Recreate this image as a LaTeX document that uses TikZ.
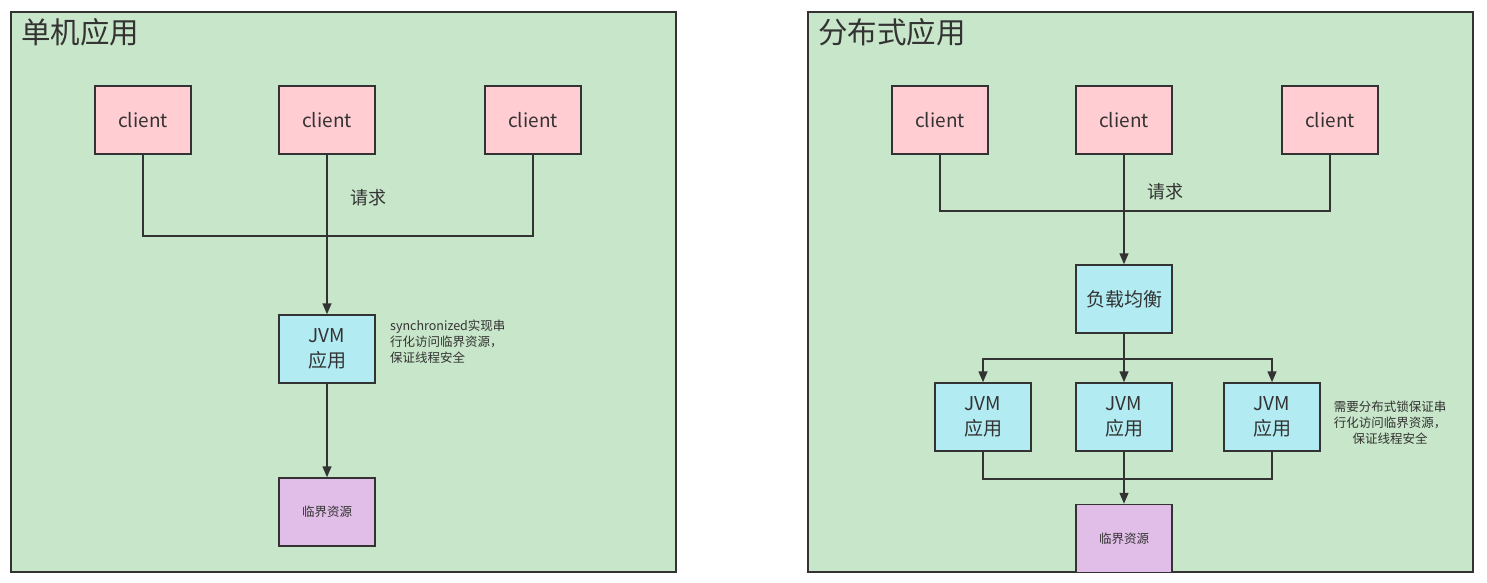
\documentclass[tikz,border=0pt]{standalone}
\usepackage{fontspec}
\setmainfont{Noto Sans CJK SC}
\usepackage{tikz}
\usetikzlibrary{positioning, arrows.meta, calc}
\definecolor{PanelGreen}{HTML}{C8E6C9}
\definecolor{ClientPink}{HTML}{FFCDD2}
\definecolor{JvmCyan}{HTML}{B2EBF2}
\definecolor{ResPurple}{HTML}{E1BEE7}
\definecolor{Stroke}{HTML}{333333}

\begin{document}
\begin{tikzpicture}[
  x=1pt, y=-1pt, every node/.style={text=Stroke},
  panel/.style={draw=Stroke, fill=PanelGreen, line width=1.5pt},
  ptitle/.style={anchor=west, inner sep=0pt, font=\fontsize{29.5}{34}\selectfont},
  client/.style={draw=Stroke, fill=ClientPink, line width=1.5pt, minimum width=96pt,
    minimum height=68pt, font=\fontsize{19}{24}\selectfont},
  jvm/.style={draw=Stroke, fill=JvmCyan, line width=1.5pt, minimum width=96pt,
    minimum height=68pt, align=center, font=\fontsize{19}{25}\selectfont},
  res/.style={draw=Stroke, fill=ResPurple, line width=1.5pt, minimum width=96pt,
    minimum height=68pt, font=\fontsize{12.5}{15}\selectfont},
  note/.style={inner sep=0pt, font=\fontsize{12.5}{16}\selectfont},
  conn/.style={draw=Stroke, line width=1.5pt},
  arr/.style={-{Triangle[length=11pt, width=9pt]}, draw=Stroke, line width=1.5pt}
]
  \useasboundingbox (0,0) rectangle (1487,583);

  % Left panel: single application
  \draw[panel] (11,12) rectangle (676,572);
  \node[ptitle] (t1) at (21,32) {单机应用};

  \node[client] (a1) at (143,120) {client};
  \node[client] (a2) at (327,120) {client};
  \node[client] (a3) at (533,120) {client};
  \node[jvm] (aj) at (327,349) {JVM\\应用};
  \node[res] (ar) at (327,512) {临界资源};

  \draw[conn] (a1.south) -- ++(0,81) -| (a3.south);
  \draw[arr] (a2.south) -- (aj.north) node[pos=0.27, right=19pt, font=\fontsize{18}{22}\selectfont] (q1) {请求};
  \draw[arr] (aj.south) -- (ar.north);

  \node[note, align=left, anchor=north west] (n1) at (390,320) {synchronized实现串\\行化访问临界资源，\\保证线程安全};

  % Right panel: distributed application
  \draw[panel] (808,12) rectangle (1473,572);
  \node[ptitle] (t2) at (818,32) {分布式应用};

  \node[client] (b1) at (940,120) {client};
  \node[client] (b2) at (1124,120) {client};
  \node[client] (b3) at (1330,120) {client};
  \node[jvm] (lb) at (1124,299) {负载均衡};
  \node[jvm] (j1) at (983,417) {JVM\\应用};
  \node[jvm] (j2) at (1124,417) {JVM\\应用};
  \node[jvm] (j3) at (1272,417) {JVM\\应用};
  \node[res] (br) at (1124,538.5) {临界资源};

  \draw[conn] (b1.south) -- ++(0,56) -| (b3.south);
  \draw[arr] (b2.south) -- (lb.north) node[pos=0.34, right=19pt, font=\fontsize{18}{22}\selectfont] (q2) {请求};
  \coordinate (split) at ($(lb.south)+(0,25)$);
  \draw[conn] (lb.south) -- (split);
  \draw[arr] (split) -| (j1.north);
  \draw[arr] (split) -| (j3.north);
  \draw[arr] (split) -- (j2.north);
  \draw[conn] (j1.south) -- ++(0,27) -| (j3.south);
  \draw[arr] (j2.south) -- (br.north);

  \node[note, align=center, anchor=north] (n2) at (1390,401) {需要分布式锁保证串\\行化访问临界资源，\\保证线程安全};
\end{tikzpicture}
\end{document}
